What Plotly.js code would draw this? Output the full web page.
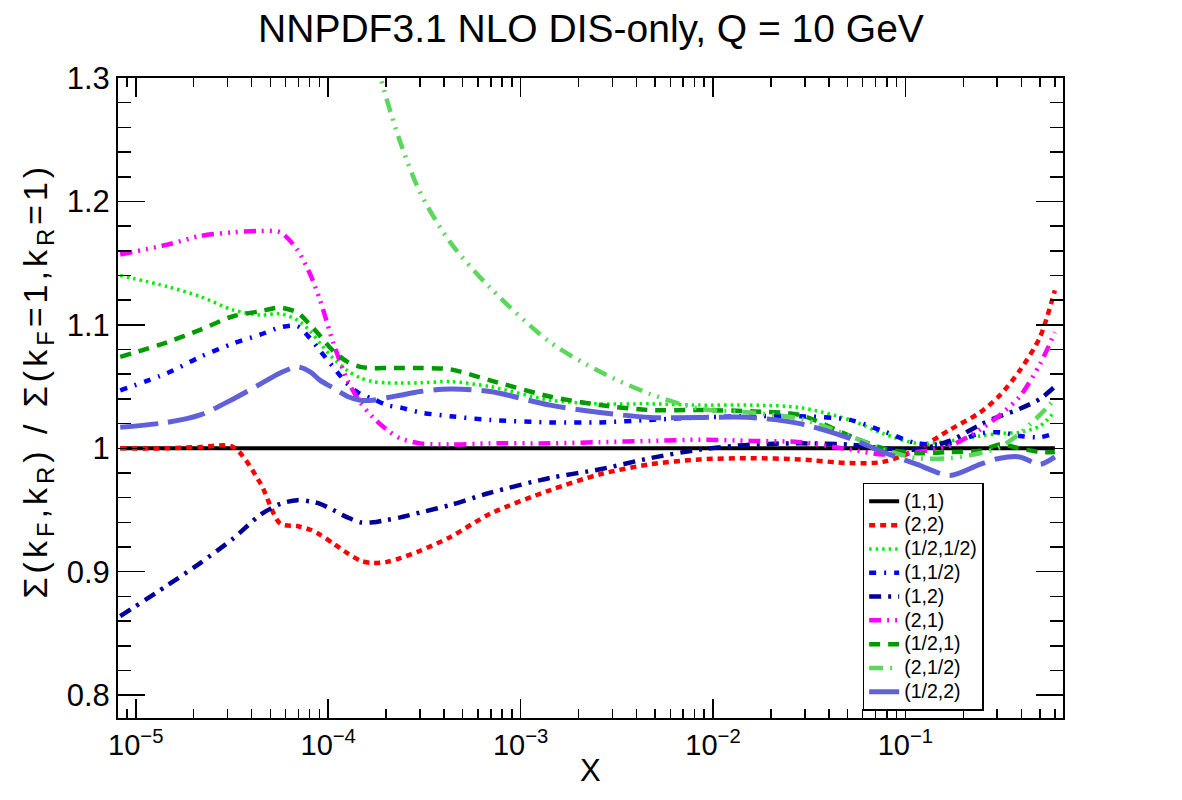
<!DOCTYPE html>
<html>
<head>
<meta charset="utf-8">
<script src="https://cdn.plot.ly/plotly-3.0.1.min.js"></script>
<style>html,body{margin:0;padding:0;background:#fff;}#chart{width:1182px;height:800px;}</style>
</head>
<body>
<div id="chart"></div>
<script>
// Shared x grid (Bjorken x)
const xGrid = [8.3e-6, 1.46e-5, 2.16e-5, 3.21e-5, 4.43e-5, 5.63e-5, 6.90e-5, 8.06e-5, 9.08e-5, 1.06e-4,
  1.26e-4, 1.47e-4, 1.71e-4, 2.02e-4, 2.37e-4, 3.01e-4, 4.30e-4, 6.95e-4, 1.42e-3, 2.59e-3,
  4.71e-3, 8.55e-3, 1.56e-2, 2.83e-2, 5.15e-2, 7.64e-2, 0.115, 0.170, 0.244, 0.310,
  0.393, 0.500, 0.598];

const seriesNames = ["(1,1)", "(2,2)", "(1/2,1/2)", "(1,1/2)", "(1,2)", "(2,1)", "(1/2,1)", "(2,1/2)", "(1/2,2)"];

const ref11   = xGrid.map(() => 1.0);
const r22     = [1.000,1.000,1.001,1.001,0.972,0.939,0.937,0.934,0.930,0.923,0.915,0.909,0.907,0.908,0.911,0.917,0.928,0.947,0.966,0.979,0.987,0.991,0.992,0.991,0.988,0.989,0.999,1.015,1.029,1.043,1.063,1.090,1.128];
const r05_05  = [1.140,1.131,1.123,1.112,1.108,1.109,1.104,1.095,1.085,1.073,1.063,1.057,1.054,1.053,1.053,1.053,1.054,1.050,1.039,1.036,1.036,1.035,1.035,1.033,1.023,1.012,1.004,1.006,1.010,1.012,1.013,1.018,1.030];
const r1_05   = [1.047,1.061,1.074,1.085,1.092,1.098,1.099,1.089,1.079,1.066,1.052,1.044,1.040,1.035,1.033,1.029,1.026,1.023,1.021,1.021,1.023,1.025,1.026,1.026,1.023,1.014,1.004,1.004,1.012,1.013,1.010,1.009,1.012];
const r1_2    = [0.864,0.889,0.907,0.927,0.946,0.955,0.958,0.957,0.955,0.950,0.944,0.940,0.940,0.942,0.944,0.948,0.954,0.964,0.976,0.983,0.992,0.999,1.003,1.004,1.003,1.000,0.999,1.006,1.019,1.026,1.032,1.040,1.050];
const r2_1    = [1.157,1.165,1.172,1.175,1.176,1.175,1.161,1.141,1.120,1.086,1.055,1.037,1.025,1.015,1.008,1.004,1.003,1.004,1.004,1.005,1.006,1.007,1.006,1.005,0.999,0.995,0.997,1.002,1.015,1.027,1.042,1.068,1.094];
const r05_1   = [1.074,1.086,1.096,1.107,1.111,1.114,1.110,1.100,1.091,1.079,1.070,1.066,1.065,1.065,1.065,1.065,1.064,1.055,1.042,1.035,1.031,1.031,1.030,1.027,1.010,1.000,0.996,0.997,0.998,1.003,1.000,0.997,0.997];
const r2_05   = [null,null,null,null,null,null,null,null,null,1.500,1.430,1.370,1.323,1.282,1.248,1.207,1.167,1.130,1.086,1.062,1.044,1.032,1.029,1.024,1.010,0.999,0.992,0.992,0.996,1.001,1.012,1.027,1.040];
const r05_2   = [1.017,1.021,1.027,1.040,1.052,1.061,1.066,1.062,1.055,1.049,1.042,1.039,1.039,1.041,1.043,1.046,1.048,1.046,1.035,1.029,1.025,1.025,1.025,1.020,1.008,0.997,0.987,0.978,0.987,0.992,0.993,0.987,0.993];

const xTickVals = [1e-5, 1e-4, 1e-3, 1e-2, 1e-1];
const xTickText = ["10<sup>\u22125</sup>", "10<sup>\u22124</sup>", "10<sup>\u22123</sup>", "10<sup>\u22122</sup>", "10<sup>\u22121</sup>"];

const seriesData = [ref11, r22, r05_05, r1_05, r1_2, r2_1, r05_1, r2_05, r05_2];
const styles = [
  {color:"#000000", width:4,   dash:"solid"},
  {color:"#ff0000", width:4.5, dash:"6px,5px"},
  {color:"#00ee00", width:3.5, dash:"2.5px,4px"},
  {color:"#0000ff", width:4.5, dash:"7px,8px,2px,8px"},
  {color:"#000099", width:4.5, dash:"12px,7px,3px,7px"},
  {color:"#ff00ff", width:4.5, dash:"12px,6px,2px,6px,2px,6px,2px,6px"},
  {color:"#009900", width:4.5, dash:"11px,8px"},
  {color:"#5cd65c", width:4.5, dash:"14px,7px,2px,7px,2px,7px"},
  {color:"#6060d8", width:5,   dash:"38px,10px"}
];

const traces = seriesData.map((ys, i) => ({
  x: xGrid, y: ys, type: "scatter", mode: "lines",
  name: '<span style="font-size:19.5px">' + seriesNames[i] + '</span>',
  line: {color: styles[i].color, width: styles[i].width, dash: styles[i].dash, shape: "spline", smoothing: 0.8},
  connectgaps: false
}));

// minor ticks on log axis: 2..9 per decade
const minorX = [];
for (let e = -6; e <= 0; e++) for (let k = 2; k <= 9; k++) minorX.push(k * Math.pow(10, e));

const font = "'Liberation Sans', Arial, Helvetica, sans-serif";
const layout = {
  width: 1182, height: 800,
  paper_bgcolor: "#fff", plot_bgcolor: "#fff",
  margin: {l: 118, r: 119, t: 78, b: 82},
  font: {family: font, color: "#000"},
  title: {text: "NNPDF3.1 NLO DIS-only, Q = 10 GeV", font: {size: 39, family: font, color:"#000"},
          x: 0.5, xanchor: "center", y: 0.965, yanchor: "middle", yref: "container"},
  xaxis: {
    type: "log", range: [-5.0925, -0.181],
    showline: true, linecolor: "#000", linewidth: 2, mirror: "allticks",
    ticks: "inside", ticklen: 19, tickwidth: 1.5, tickcolor: "#000",
    tickmode: "array", tickvals: xTickVals, ticktext: xTickText,
    tickfont: {size: 29, family: font},
    showgrid: false, zeroline: false,
    minor: {tickmode: "array", tickvals: minorX, ticks: "inside", ticklen: 9, tickwidth: 1.5, tickcolor: "#000", showgrid: false}
  },
  yaxis: {
    range: [0.7815, 1.3],
    showline: true, linecolor: "#000", linewidth: 2, mirror: "allticks",
    ticks: "inside", ticklen: 27, tickwidth: 1.5, tickcolor: "#000",
    tick0: 0.8, dtick: 0.1,
    tickfont: {size: 31, family: font},
    showgrid: false, zeroline: false,
    minor: {dtick: 0.02, tick0: 0.8, ticks: "inside", ticklen: 13, tickwidth: 1.5, tickcolor: "#000", showgrid: false}
  },
  legend: {
    x: 0.788, y: 0.011, xanchor: "left", yanchor: "bottom",
    bgcolor: "#fff", bordercolor: "#000", borderwidth: 1.5,
    font: {size: 16, family: font}, itemwidth: 30, traceorder: "normal"
  },
  annotations: [
    {text: '<span style="letter-spacing:4px">\u03A3(k<sub>F</sub>,k<sub>R</sub>) / \u03A3(k<sub>F</sub>=1,k<sub>R</sub>=1)</span>',
     xref: "paper", yref: "paper", x: -0.085, y: 0.527, xanchor: "center", yanchor: "middle",
     textangle: -90, showarrow: false, font: {size: 34, family: font}},
    {text: "X", xref: "paper", yref: "paper", x: 0.5, y: -0.082, xanchor: "center", yanchor: "middle",
     showarrow: false, font: {size: 31, family: font}}
  ],
  showlegend: true
};

Plotly.newPlot("chart", traces, layout, {displayModeBar: false, staticPlot: true});
</script>
</body>
</html>
